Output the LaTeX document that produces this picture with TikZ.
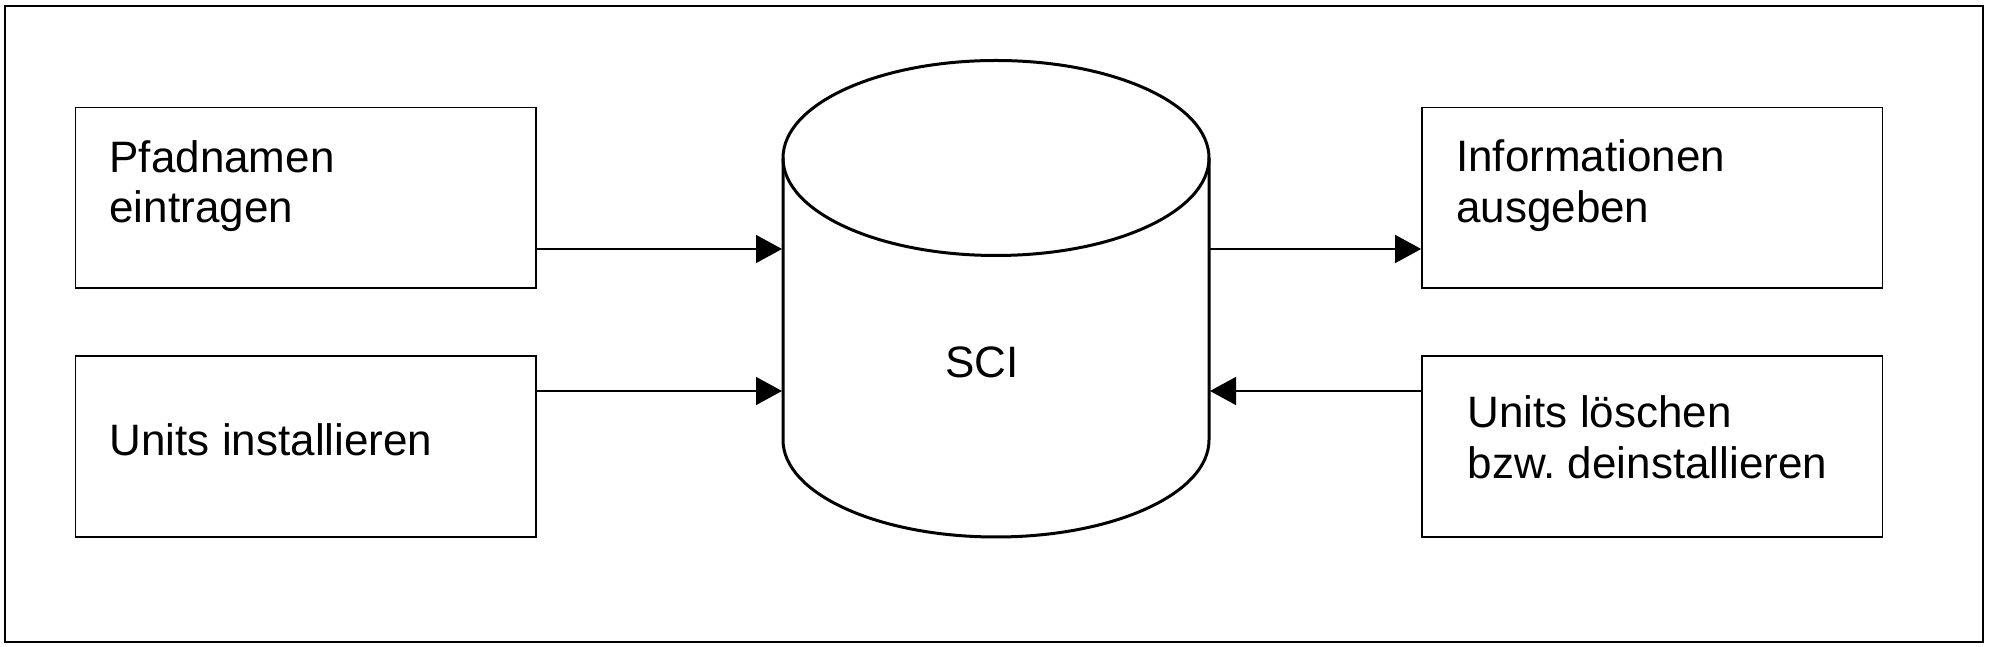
\documentclass[tikz,border=0pt]{standalone}
\usepackage{fontspec}
\setmainfont{Liberation Sans}
\usetikzlibrary{arrows.meta}
\frenchspacing
\begin{document}
\begin{tikzpicture}[x=1pt,y=1pt,
  boxstyle/.style={draw, line width=1.7pt, minimum width=460.5pt, minimum height=180.5pt, inner sep=0pt},
  txt/.style={inner sep=0pt, anchor=base west, align=left, font=\fontsize{44}{50.5}\selectfont},
  cyl/.style={line width=3pt},
  conn/.style={line width=1.5pt, -{Triangle[length=26pt,width=28pt]}}]
\useasboundingbox (0,0) rectangle (1990,647);
\draw[line width=2.2pt] (5,5) rectangle (1983,641);
% boxes
\node[boxstyle] (b1) at (305.75,449.25) {};
\node[boxstyle] (b2) at (305.75,200.5) {};
\node[boxstyle] (b3) at (1652.25,449.25) {};
\node[boxstyle] (b4) at (1652.25,200.5) {};
% texts (base anchor = baseline of the last line)
\node[txt] (t1) at (109.3,424) {Pfadnamen\\eintragen};
\node[txt] (t2) at (109.5,191) {Units installieren};
\node[txt] (t3) at (1456,424.5) {Informationen\\ausgeben};
\node[txt] (t4) at (1467.5,168.5) {Units löschen\\bzw.\ deinstallieren};
% cylinder
\draw[cyl] (783,489) -- (783,207) arc[start angle=180, end angle=360, x radius=213pt, y radius=97pt] -- (1209,489);
\draw[cyl] (996,489) ellipse [x radius=213pt, y radius=97.5pt];
\node[txt] (sci) at (945,269) {SCI};
\coordinate (cl1) at (782,398);
\coordinate (cl2) at (782,256);
\coordinate (cr1) at (1210,398);
\coordinate (cr2) at (1210,256);
% connectors
\draw[conn] ([yshift=-51.25pt]b1.east) -- (cl1);
\draw[conn] ([yshift=55.5pt]b2.east) -- (cl2);
\draw[conn] (cr1) -- ([yshift=-51.25pt]b3.west);
\draw[conn] ([yshift=55.5pt]b4.west) -- (cr2);
\end{tikzpicture}
\end{document}
